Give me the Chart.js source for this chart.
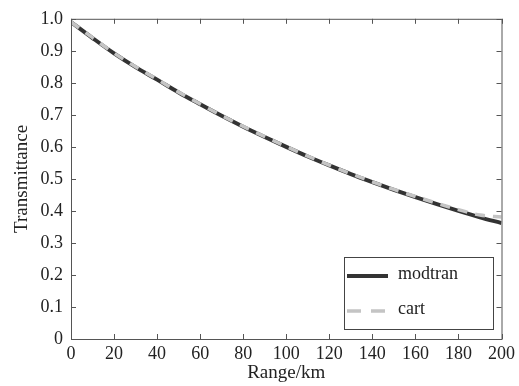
<!DOCTYPE html>
<html>
<head>
<meta charset="utf-8">
<script src="https://cdn.jsdelivr.net/npm/chart.js@4.4.0/dist/chart.umd.min.js"></script>
<style>
  body { margin: 0; background: #fff; }
</style>
</head>
<body>
<canvas id="transChart" width="519" height="386"></canvas>
<script>
// range in km and transmittance for both models
var rangeKm = [0, 10, 20, 30, 40, 50, 60, 70, 80, 90, 100, 110, 120, 130, 140, 150, 160, 170, 180, 190, 200];
var modtran = [0.99, 0.940, 0.892, 0.849, 0.810, 0.770, 0.733, 0.697, 0.663, 0.631, 0.600, 0.570, 0.542, 0.515, 0.490, 0.466, 0.443, 0.421, 0.400, 0.380, 0.362];
var cart = [0.99, 0.941, 0.893, 0.850, 0.811, 0.771, 0.734, 0.698, 0.664, 0.632, 0.601, 0.571, 0.543, 0.516, 0.491, 0.467, 0.445, 0.424, 0.404, 0.387, 0.381];
var xTicks = [0, 20, 40, 60, 80, 100, 120, 140, 160, 180, 200];
var yTicks = [0, 0.1, 0.2, 0.3, 0.4, 0.5, 0.6, 0.7, 0.8, 0.9, 1.0];

var serif = "'Liberation Serif', 'Times New Roman', serif";
var axisColor = "#555";

function points(ys) {
  return rangeKm.map(function (x, i) {
    return { x: x, y: ys[i] };
  });
}

// box round the plot with ticks pointing inwards, plus the legend
var framePlugin = {
  id: "frame",
  afterDraw: function (chart) {
    var ctx = chart.ctx;
    var a = chart.chartArea;
    var xs = chart.scales.x;
    var ys = chart.scales.y;
    ctx.save();
    ctx.strokeStyle = axisColor;
    ctx.lineWidth = 1;
    ctx.strokeRect(a.left + 0.5, a.top + 0.5, a.right - a.left, a.bottom - a.top);
    ctx.beginPath();
    xTicks.forEach(function (v) {
      var px = Math.round(xs.getPixelForValue(v)) + 0.5;
      ctx.moveTo(px, a.bottom);
      ctx.lineTo(px, a.bottom - 5);
      ctx.moveTo(px, a.top);
      ctx.lineTo(px, a.top + 5);
    });
    yTicks.forEach(function (v) {
      var py = Math.round(ys.getPixelForValue(v)) + 0.5;
      ctx.moveTo(a.left, py);
      ctx.lineTo(a.left + 5, py);
      ctx.moveTo(a.right, py);
      ctx.lineTo(a.right - 5, py);
    });
    ctx.stroke();

    // legend
    var lx = 344, ly = 257, lw = 149, lh = 72;
    ctx.fillStyle = "#fff";
    ctx.fillRect(lx, ly, lw, lh);
    ctx.strokeStyle = "#444";
    ctx.strokeRect(lx + 0.5, ly + 0.5, lw, lh);
    ctx.font = "18px " + serif;
    ctx.textBaseline = "middle";
    chart.data.datasets.forEach(function (ds, i) {
      var y = ly + 19 + i * 35;
      ctx.beginPath();
      ctx.strokeStyle = ds.borderColor;
      ctx.lineWidth = ds.borderWidth;
      ctx.setLineDash(ds.borderDash ? [14, 10] : []);
      ctx.moveTo(lx + 3, y);
      ctx.lineTo(lx + 44, y);
      ctx.stroke();
      ctx.setLineDash([]);
      ctx.fillStyle = "#222";
      ctx.fillText(ds.label, lx + 54, y - 2);
    });
    ctx.restore();
  }
};

new Chart(document.getElementById("transChart"), {
  type: "line",
  data: {
    datasets: [
      {
        label: "modtran",
        data: points(modtran),
        borderColor: "#333",
        borderWidth: 4,
        pointRadius: 0,
        cubicInterpolationMode: "monotone",
        order: 2,
        fill: false
      },
      {
        label: "cart",
        data: points(cart),
        borderColor: "#c4c4c4",
        borderWidth: 3.5,
        borderDash: [10, 8],
        pointRadius: 0,
        cubicInterpolationMode: "monotone",
        order: 1,
        fill: false
      }
    ]
  },
  options: {
    responsive: false,
    animation: false,
    layout: { padding: { left: 0, right: 16, top: 15, bottom: 0 } },
    plugins: {
      legend: { display: false },
      tooltip: { enabled: false }
    },
    scales: {
      x: {
        type: "linear",
        min: 0,
        max: 200,
        grid: { display: false, drawTicks: false },
        border: { display: false },
        afterBuildTicks: function (scale) {
          scale.ticks = xTicks.map(function (v) { return { value: v }; });
        },
        afterFit: function (scale) { scale.height = 47; },
        ticks: {
          color: "#222",
          padding: 4,
          maxRotation: 0,
          font: { family: serif, size: 18 },
          callback: function (v) { return String(v); }
        },
        title: {
          display: true,
          text: "Range/km",
          color: "#222",
          padding: { top: 0, bottom: 2 },
          font: { family: serif, size: 19 }
        }
      },
      y: {
        min: 0,
        max: 1,
        grid: { display: false, drawTicks: false },
        border: { display: false },
        afterBuildTicks: function (scale) {
          scale.ticks = yTicks.map(function (v) { return { value: v }; });
        },
        afterFit: function (scale) { scale.width = 71; },
        ticks: {
          color: "#222",
          padding: 8,
          font: { family: serif, size: 18 },
          callback: function (v) { return v === 0 ? "0" : v.toFixed(1); }
        },
        title: {
          display: true,
          text: "Transmittance",
          color: "#222",
          padding: { top: 11, bottom: 0 },
          font: { family: serif, size: 19 }
        }
      }
    }
  },
  plugins: [framePlugin]
});
</script>
</body>
</html>
